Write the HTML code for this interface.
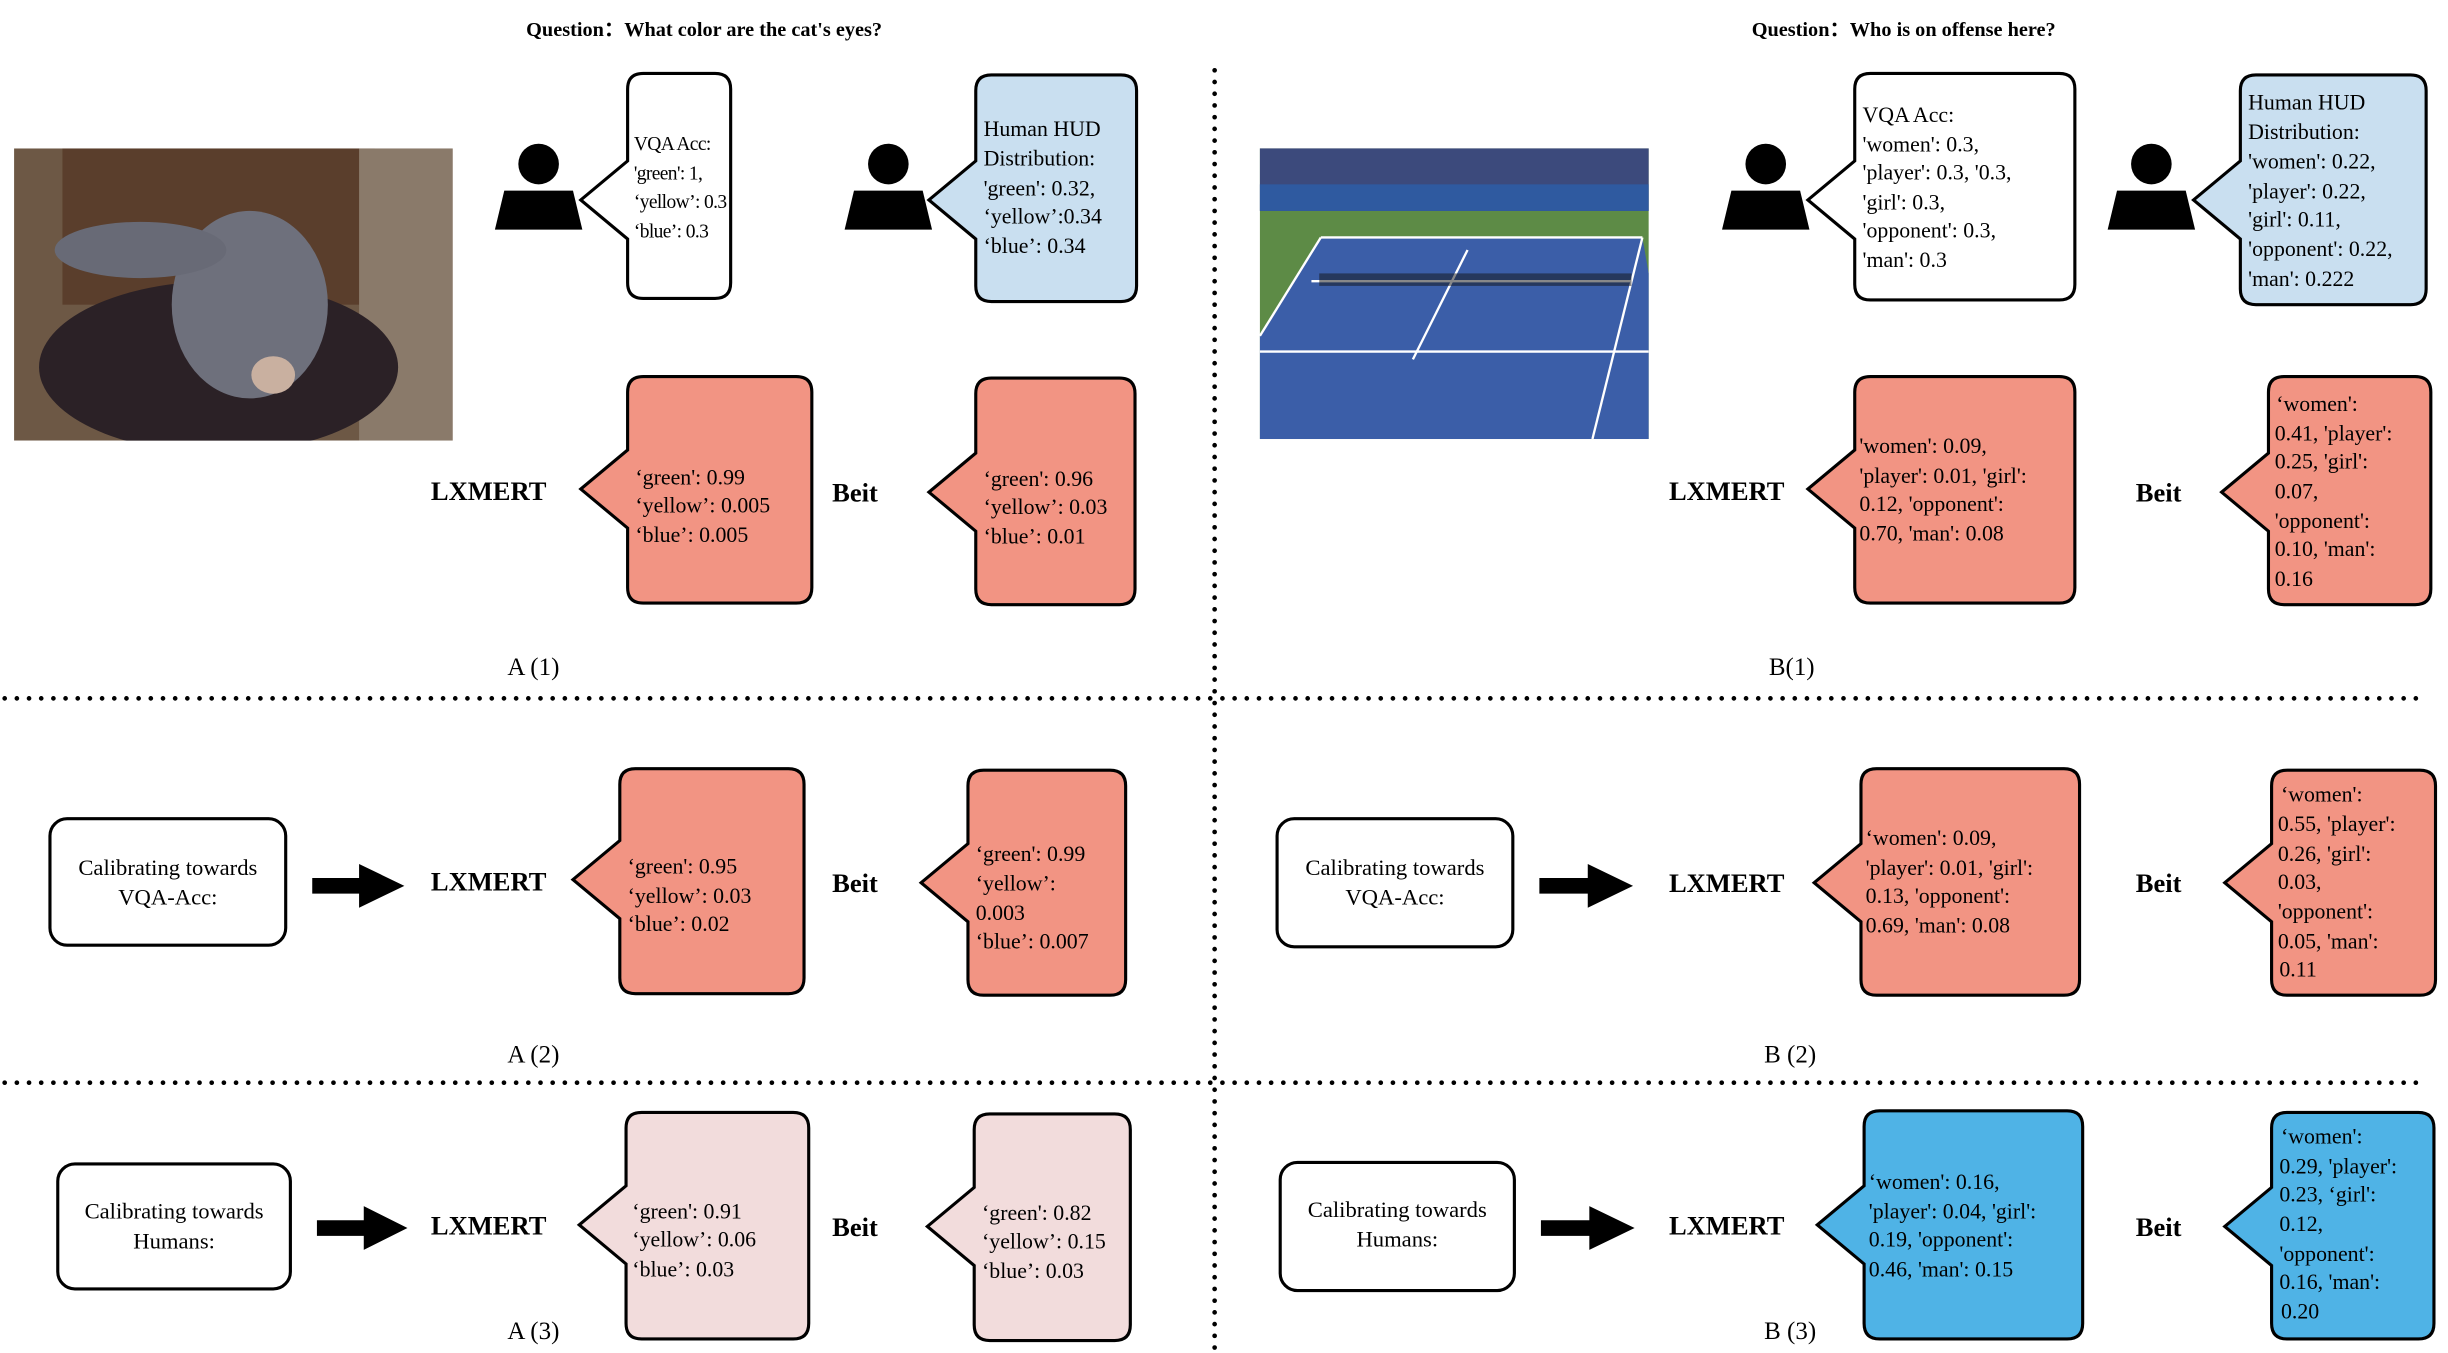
<!DOCTYPE html>
<html><head><meta charset="utf-8"><style>
html,body{margin:0;padding:0;background:#fff;width:2448px;height:1353px;overflow:hidden}
svg{display:block}
text{font-family:"Liberation Serif",serif;font-size:14px;fill:#000}
.b{font-weight:bold;font-size:17px}
.q{font-weight:bold;font-size:13px}
.l{font-size:16px}
.c{font-size:14.5px}
.s{font-size:12.5px;letter-spacing:-0.4px}
path.box{stroke:#000;stroke-width:2}
</style></head><body>
<svg width="2448" height="1353" viewBox="0 0 1568 866" preserveAspectRatio="none">
<defs>
<g id="person"><circle cx="0" cy="0" r="13" fill="#000"/><polygon points="-22,17 22,17 28,42 -28,42" fill="#000"/></g>
<clipPath id="catclip"><rect x="9" y="95" width="281" height="187"/></clipPath>
</defs>
<line x1="778" y1="45" x2="778" y2="866" stroke="#000" stroke-width="3" stroke-linecap="round" stroke-dasharray="0 7.5"/>
<line x1="3" y1="447" x2="1550" y2="447" stroke="#000" stroke-width="3" stroke-linecap="round" stroke-dasharray="0 7.8"/>
<line x1="3" y1="693" x2="1550" y2="693" stroke="#000" stroke-width="3" stroke-linecap="round" stroke-dasharray="0 7.8"/>

<text class="q" x="337" y="23">Question：What color are the cat's eyes?</text>
<text class="q" x="1122" y="23">Question：Who is on offense here?</text>

<g clip-path="url(#catclip)">
<rect x="9" y="95" width="281" height="187" fill="#6d5845"/>
<rect x="40" y="95" width="200" height="100" fill="#5a3e2c"/>
<rect x="230" y="95" width="60" height="187" fill="#8a7a6a"/>
<ellipse cx="140" cy="235" rx="115" ry="55" fill="#2b2126"/>
<ellipse cx="160" cy="195" rx="50" ry="60" fill="#6e707c"/>
<ellipse cx="90" cy="160" rx="55" ry="18" fill="#686a76"/>
<ellipse cx="175" cy="240" rx="14" ry="12" fill="#c9b0a0"/>
</g>

<rect x="807" y="95" width="249" height="186" fill="#5d8b46"/>
<rect x="807" y="95" width="249" height="40" fill="#3c4a7c"/>
<rect x="807" y="118" width="249" height="17" fill="#2f5aa0"/>
<polygon points="846,152 1052,152 1056,175 1056,281 807,281 807,215" fill="#3b5ea8"/>
<g stroke="#fff" stroke-width="1.5" fill="none">
<line x1="846" y1="152" x2="1052" y2="152"/><line x1="807" y1="225" x2="1056" y2="225"/>
<line x1="846" y1="152" x2="807" y2="215"/><line x1="1052" y1="152" x2="1020" y2="281"/>
<line x1="940" y1="160" x2="905" y2="230"/><line x1="840" y1="180" x2="1045" y2="180"/>
</g>
<rect x="845" y="175" width="200" height="8" fill="#111" opacity="0.5"/>

<use href="#person" x="345" y="105"/>
<use href="#person" x="569" y="105"/>
<use href="#person" x="1131" y="105"/>
<use href="#person" x="1378" y="105"/>

<!-- A1 -->
<path class="box" fill="#fff" d="M412,47 H458 Q468,47 468,57 V181 Q468,191 458,191 H412 Q402,191 402,181 V153 L372,128 L402,103 V57 Q402,47 412,47Z"/>
<text class="s" x="406" y="96">VQA Acc:</text><text class="s" x="406" y="115">'green': 1,</text><text class="s" x="406" y="133">‘yellow’: 0.3</text><text class="s" x="406" y="152">‘blue’: 0.3</text>
<path class="box" fill="#c9dff0" d="M635,48 H718 Q728,48 728,58 V183 Q728,193 718,193 H635 Q625,193 625,183 V153 L595,128 L625,103 V58 Q625,48 635,48Z"/>
<text x="630" y="87">Human HUD</text><text x="630" y="106">Distribution:</text><text x="630" y="125">'green': 0.32,</text><text x="630" y="143">‘yellow’:0.34</text><text x="630" y="162">‘blue’: 0.34</text>
<text class="b" x="276" y="320">LXMERT</text>
<path class="box" fill="#f29483" d="M412,241 H510 Q520,241 520,251 V376 Q520,386 510,386 H412 Q402,386 402,376 V338 L372,313 L402,288 V251 Q402,241 412,241Z"/>
<text x="407" y="310">‘green': 0.99</text><text x="407" y="328">‘yellow’: 0.005</text><text x="407" y="347">‘blue’: 0.005</text>
<text class="b" x="533" y="321">Beit</text>
<path class="box" fill="#f29483" d="M635,242 H717 Q727,242 727,252 V377 Q727,387 717,387 H635 Q625,387 625,377 V340 L595,315 L625,290 V252 Q625,242 635,242Z"/>
<text x="630" y="311">‘green': 0.96</text><text x="630" y="329">‘yellow’: 0.03</text><text x="630" y="348">‘blue’: 0.01</text>
<text class="l" x="325" y="432">A (1)</text>

<!-- B1 -->
<path class="box" fill="#fff" d="M1198,47 H1319 Q1329,47 1329,57 V182 Q1329,192 1319,192 H1198 Q1188,192 1188,182 V153 L1158,128 L1188,103 V57 Q1188,47 1198,47Z"/>
<text x="1193" y="78">VQA Acc:</text><text x="1193" y="97">'women': 0.3,</text><text x="1193" y="115">'player': 0.3, '0.3,</text><text x="1193" y="134">'girl': 0.3,</text><text x="1193" y="152">'opponent': 0.3,</text><text x="1193" y="171">'man': 0.3</text>
<path class="box" fill="#c9dff0" d="M1445,48 H1544 Q1554,48 1554,58 V185 Q1554,195 1544,195 H1445 Q1435,195 1435,185 V153 L1405,128 L1435,103 V58 Q1435,48 1445,48Z"/>
<text x="1440" y="70">Human HUD</text><text x="1440" y="89">Distribution:</text><text x="1440" y="108">'women': 0.22,</text><text x="1440" y="127">'player': 0.22,</text><text x="1440" y="145">'girl': 0.11,</text><text x="1440" y="164">'opponent': 0.22,</text><text x="1440" y="183">'man': 0.222</text>
<text class="b" x="1069" y="320">LXMERT</text>
<path class="box" fill="#f29483" d="M1198,241 H1319 Q1329,241 1329,251 V376 Q1329,386 1319,386 H1198 Q1188,386 1188,376 V338 L1158,313 L1188,288 V251 Q1188,241 1198,241Z"/>
<text x="1191" y="290">'women': 0.09,</text><text x="1191" y="309">'player': 0.01, 'girl':</text><text x="1191" y="327">0.12, 'opponent':</text><text x="1191" y="346">0.70, 'man': 0.08</text>
<text class="b" x="1368" y="321">Beit</text>
<path class="box" fill="#f29483" d="M1463,241 H1547 Q1557,241 1557,251 V377 Q1557,387 1547,387 H1463 Q1453,387 1453,377 V340 L1423,315 L1453,290 V251 Q1453,241 1463,241Z"/>
<text x="1458" y="263">‘women':</text><text x="1457" y="282">0.41, 'player':</text><text x="1457" y="300">0.25, 'girl':</text><text x="1457" y="319">0.07,</text><text x="1457" y="338">'opponent':</text><text x="1457" y="356">0.10, 'man':</text><text x="1457" y="375">0.16</text>
<text class="l" x="1133" y="432">B(1)</text>

<!-- A2 -->
<rect x="32" y="524" width="151" height="81" rx="11" fill="#fff" stroke="#000" stroke-width="2"/>
<text class="c" x="107.5" y="560" text-anchor="middle">Calibrating towards</text><text class="c" x="107.5" y="579" text-anchor="middle">VQA-Acc:</text>
<polygon points="200,562 230,562 230,553 259,567 230,581 230,572 200,572" fill="#000"/>
<text class="b" x="276" y="570">LXMERT</text>
<path class="box" fill="#f29483" d="M407,492 H505 Q515,492 515,502 V626 Q515,636 505,636 H407 Q397,636 397,626 V588 L367,563 L397,538 V502 Q397,492 407,492Z"/>
<text x="402" y="559">‘green': 0.95</text><text x="402" y="578">‘yellow’: 0.03</text><text x="402" y="596">‘blue’: 0.02</text>
<text class="b" x="533" y="571">Beit</text>
<path class="box" fill="#f29483" d="M630,493 H711 Q721,493 721,503 V627 Q721,637 711,637 H630 Q620,637 620,627 V590 L590,565 L620,540 V503 Q620,493 630,493Z"/>
<text x="625" y="551">‘green': 0.99</text><text x="625" y="570">‘yellow’:</text><text x="625" y="589">0.003</text><text x="625" y="607">‘blue’: 0.007</text>
<text class="l" x="325" y="680">A (2)</text>

<!-- B2 -->
<rect x="818" y="524" width="151" height="82" rx="11" fill="#fff" stroke="#000" stroke-width="2"/>
<text class="c" x="893.5" y="560" text-anchor="middle">Calibrating towards</text><text class="c" x="893.5" y="579" text-anchor="middle">VQA-Acc:</text>
<polygon points="986,562 1017,562 1017,553 1046,567 1017,581 1017,572 986,572" fill="#000"/>
<text class="b" x="1069" y="571">LXMERT</text>
<path class="box" fill="#f29483" d="M1202,492 H1322 Q1332,492 1332,502 V627 Q1332,637 1322,637 H1202 Q1192,637 1192,627 V590 L1162,565 L1192,540 V502 Q1192,492 1202,492Z"/>
<text x="1195" y="541">‘women': 0.09,</text><text x="1195" y="560">'player': 0.01, 'girl':</text><text x="1195" y="578">0.13, 'opponent':</text><text x="1195" y="597">0.69, 'man': 0.08</text>
<text class="b" x="1368" y="571">Beit</text>
<path class="box" fill="#f29483" d="M1465,493 H1550 Q1560,493 1560,503 V627 Q1560,637 1550,637 H1465 Q1455,637 1455,627 V590 L1425,565 L1455,540 V503 Q1455,493 1465,493Z"/>
<text x="1461" y="513">‘women':</text><text x="1459" y="532">0.55, 'player':</text><text x="1459" y="551">0.26, 'girl':</text><text x="1459" y="569">0.03,</text><text x="1459" y="588">'opponent':</text><text x="1459" y="607">0.05, 'man':</text><text x="1460" y="625">0.11</text>
<text class="l" x="1130" y="680">B (2)</text>

<!-- A3 -->
<rect x="37" y="745" width="149" height="80" rx="11" fill="#fff" stroke="#000" stroke-width="2"/>
<text class="c" x="111.5" y="780" text-anchor="middle">Calibrating towards</text><text class="c" x="111.5" y="799" text-anchor="middle">Humans:</text>
<polygon points="203,781 233,781 233,772 261,786 233,800 233,791 203,791" fill="#000"/>
<text class="b" x="276" y="790">LXMERT</text>
<path class="box" fill="#f2dcdc" d="M411,712 H508 Q518,712 518,722 V847 Q518,857 508,857 H411 Q401,857 401,847 V809 L371,784 L401,759 V722 Q401,712 411,712Z"/>
<text x="405" y="780">‘green': 0.91</text><text x="405" y="798">‘yellow’: 0.06</text><text x="405" y="817">‘blue’: 0.03</text>
<text class="b" x="533" y="791">Beit</text>
<path class="box" fill="#f2dcdc" d="M634,713 H714 Q724,713 724,723 V848 Q724,858 714,858 H634 Q624,858 624,848 V810 L594,785 L624,760 V723 Q624,713 634,713Z"/>
<text x="629" y="781">‘green': 0.82</text><text x="629" y="799">‘yellow’: 0.15</text><text x="629" y="818">‘blue’: 0.03</text>
<text class="l" x="325" y="857">A (3)</text>

<!-- B3 -->
<rect x="820" y="744" width="150" height="82" rx="11" fill="#fff" stroke="#000" stroke-width="2"/>
<text class="c" x="895" y="779" text-anchor="middle">Calibrating towards</text><text class="c" x="895" y="798" text-anchor="middle">Humans:</text>
<polygon points="987,781 1018,781 1018,772 1047,786 1018,800 1018,791 987,791" fill="#000"/>
<text class="b" x="1069" y="790">LXMERT</text>
<path class="box" fill="#4fb3e6" d="M1204,711 H1324 Q1334,711 1334,721 V847 Q1334,857 1324,857 H1204 Q1194,857 1194,847 V809 L1164,784 L1194,759 V721 Q1194,711 1204,711Z"/>
<text x="1197" y="761">‘women': 0.16,</text><text x="1197" y="780">'player': 0.04, 'girl':</text><text x="1197" y="798">0.19, 'opponent':</text><text x="1197" y="817">0.46, 'man': 0.15</text>
<text class="b" x="1368" y="791">Beit</text>
<path class="box" fill="#4fb3e6" d="M1465,712 H1549 Q1559,712 1559,722 V847 Q1559,857 1549,857 H1465 Q1455,857 1455,847 V810 L1425,785 L1455,760 V722 Q1455,712 1465,712Z"/>
<text x="1461" y="732">‘women':</text><text x="1460" y="751">0.29, 'player':</text><text x="1460" y="769">0.23, ‘girl':</text><text x="1460" y="788">0.12,</text><text x="1460" y="807">'opponent':</text><text x="1460" y="825">0.16, 'man':</text><text x="1461" y="844">0.20</text>
<text class="l" x="1130" y="857">B (3)</text>
</svg>
</body></html>
